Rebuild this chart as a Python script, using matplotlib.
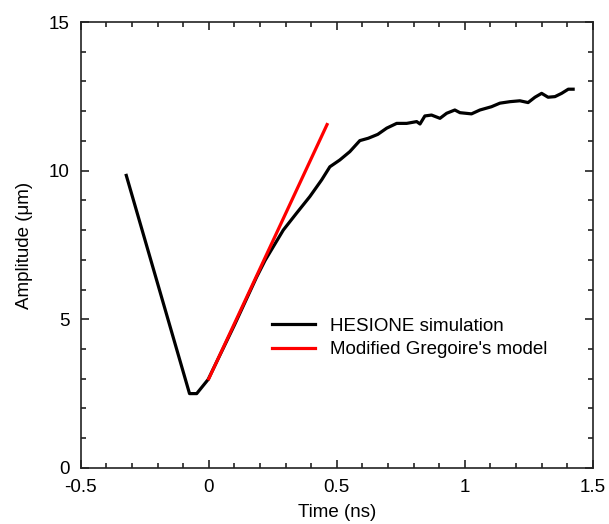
import matplotlib
matplotlib.use('Agg')
import matplotlib.pyplot as plt
from matplotlib.ticker import MultipleLocator, FuncFormatter

plt.rcParams['font.family'] = ['Liberation Sans', 'DejaVu Sans']

# HESIONE simulation
sim_t = [-0.322, -0.075, -0.047, -0.002, 0.10, 0.187, 0.220, 0.252,
         0.291, 0.343, 0.395, 0.441, 0.473, 0.512, 0.551, 0.590, 0.623,
         0.660, 0.695, 0.734, 0.773, 0.812, 0.825, 0.844, 0.870, 0.903,
         0.929, 0.961, 0.981, 1.026, 1.059, 1.104, 1.137, 1.176, 1.215,
         1.247, 1.274, 1.300, 1.325, 1.352, 1.378, 1.404, 1.423]
sim_amp = [9.84, 2.50, 2.50, 2.98, 4.80, 6.42, 6.98, 7.44,
           8.00, 8.57, 9.13, 9.69, 10.13, 10.36, 10.64, 11.01, 11.09,
           11.22, 11.43, 11.59, 11.59, 11.65, 11.57, 11.84, 11.87, 11.76,
           11.93, 12.04, 11.95, 11.91, 12.04, 12.15, 12.27, 12.32, 12.35,
           12.29, 12.47, 12.60, 12.47, 12.49, 12.60, 12.74, 12.74]

# Modified Gregoire's model
model_t = [0.0, 0.462]
model_amp = [3.0, 11.55]

fig = plt.figure(figsize=(6.09, 5.24), dpi=100)
ax = fig.add_axes([0.1325, 0.107, 0.841, 0.851])

ax.plot(sim_t, sim_amp, color='black', lw=2.3, label='HESIONE simulation')
ax.plot(model_t, model_amp, color='#ff0000', lw=2.3, label="Modified Gregoire's model")

ax.set_xlim(-0.5, 1.5)
ax.set_ylim(0, 15)
ax.xaxis.set_major_locator(MultipleLocator(0.5))
ax.xaxis.set_minor_locator(MultipleLocator(0.1))
ax.yaxis.set_major_locator(MultipleLocator(5))
ax.yaxis.set_minor_locator(MultipleLocator(1))
ax.xaxis.set_major_formatter(FuncFormatter(lambda v, p: '%g' % v))
ax.yaxis.set_major_formatter(FuncFormatter(lambda v, p: '%g' % v))

ax.tick_params(which='both', direction='in', top=True, right=True,
               labelsize=13.5, width=1.2, color='#222222')
ax.tick_params(which='major', length=6, pad=8)
ax.tick_params(which='minor', length=3.5)
for s in ax.spines.values():
    s.set_linewidth(1.2)
    s.set_color('#222222')

ax.set_xlabel('Time (ns)', fontsize=13.5, labelpad=6)
ax.set_ylabel('Amplitude (\u03bcm)', fontsize=13.5, labelpad=11)

ax.legend(loc='upper left', bbox_to_anchor=(0.34, 0.375), frameon=False,
          fontsize=13.5, handlelength=2.3, handletextpad=0.8, labelspacing=0.35)

fig.savefig('out.png', dpi=100)
